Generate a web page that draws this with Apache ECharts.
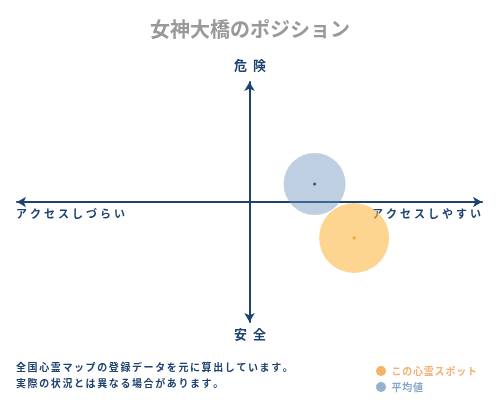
<!DOCTYPE html>
<html><head><meta charset="UTF-8">
<title>女神大橋のポジション</title>
<style>*{margin:0;padding:0}html,body{width:500px;height:400px;background:#fff}#chart{width:500px;height:400px}</style>
</head>
<body>
<div id="chart"></div>
<script src="https://cdn.jsdelivr.net/npm/echarts@6/dist/echarts.min.js"></script>
<script>
const titleText = '女神大橋のポジション';
const seriesNames = ['この心霊スポット', '平均値'];
// [アクセス, 危険度] ( -1 .. 1 )
const spotPoint = [0.45, -0.30];
const avgPoint = [0.28, 0.15];
const axisLabels = { top: '危険', bottom: '安全', left: 'アクセスしづらい', right: 'アクセスしやすい' };
const notes = ['全国心霊マップの登録データを元に算出しています。', '実際の状況とは異なる場合があります。'];

const font = '"Noto Sans CJK JP", sans-serif';
const navy = '#1d4270';
const chart = echarts.init(document.getElementById('chart'));

// letter-spaced text: every character becomes one rich token with side padding
function spaced(str, tag) {
    return Array.from(str).map(c => '{' + (tag || 'c') + '|' + c + '}').join('');
}
function spacedText(str, pad, size, color) {
    return {
        text: spaced(str),
        rich: { c: { padding: [0, pad], fontSize: size, fontWeight: 'bold', fontFamily: font, fill: color, color: color } }
    };
}

chart.setOption({
    animation: false,
    textStyle: { fontFamily: font },
    title: {
        text: titleText, left: 'center', top: 14,
        textStyle: { color: '#999', fontSize: 20, fontWeight: 'bold', fontFamily: font }
    },
    grid: { left: 17, right: 18, top: 82, bottom: 78 },
    xAxis: {
        type: 'value', min: -1, max: 1,
        axisLine: { onZero: true, symbol: ['arrow', 'arrow'], symbolSize: [8, 9], lineStyle: { color: navy, width: 2 } },
        axisTick: { show: false }, axisLabel: { show: false }, splitLine: { show: false }
    },
    yAxis: {
        type: 'value', min: -1, max: 1,
        axisLine: { onZero: true, symbol: ['arrow', 'arrow'], symbolSize: [8, 9], lineStyle: { color: navy, width: 2 } },
        axisTick: { show: false }, axisLabel: { show: false }, splitLine: { show: false }
    },
    legend: {
        orient: 'vertical', left: 371, top: 361, itemGap: 6,
        icon: 'circle', itemWidth: 10, itemHeight: 10,
        data: [
            { name: seriesNames[0], itemStyle: { color: '#f2a145' } },
            { name: seriesNames[1], itemStyle: { color: '#7d9fc4' } }
        ],
        formatter: name => spaced(name, name === seriesNames[0] ? 'o' : 'b'),
        textStyle: {
            fontSize: 10, fontFamily: font,
            rich: {
                o: { padding: [0, 0.4], fontSize: 10, fontWeight: 'bold', color: '#f3b072', fontFamily: font },
                b: { padding: [0, 0.4], fontSize: 10, fontWeight: 'bold', color: '#88a6c8', fontFamily: font }
            }
        }
    },
    series: [
        {
            name: seriesNames[1], type: 'scatter', data: [avgPoint], symbolSize: 62, z: 3,
            itemStyle: { color: 'rgba(110,145,190,0.55)' }
        },
        {
            name: seriesNames[0], type: 'scatter', data: [spotPoint], symbolSize: 70, z: 4,
            itemStyle: { color: 'rgba(252,184,70,0.75)' }
        },
        {
            type: 'scatter', data: [avgPoint], symbolSize: 3, z: 5, silent: true,
            itemStyle: { color: '#1d3050' }
        },
        {
            type: 'scatter', data: [spotPoint], symbolSize: 4, symbol: 'diamond', z: 5, silent: true,
            itemStyle: { color: '#f3a020' }
        }
    ],
    graphic: [
        { type: 'text', left: 'center', top: 59, style: spacedText(axisLabels.top, 3, 13, navy) },
        { type: 'text', left: 'center', top: 328, style: spacedText(axisLabels.bottom, 3, 13, navy) },
        { type: 'text', left: 16, top: 208, style: spacedText(axisLabels.left, 1.5, 11, navy) },
        { type: 'text', right: 19, top: 208, style: spacedText(axisLabels.right, 1.5, 11, navy) },
        { type: 'text', left: 16, top: 362, style: spacedText(notes[0], 0.8, 10, navy) },
        { type: 'text', left: 16, top: 378, style: spacedText(notes[1], 0.8, 10, navy) }
    ]
});
</script>
</body></html>
